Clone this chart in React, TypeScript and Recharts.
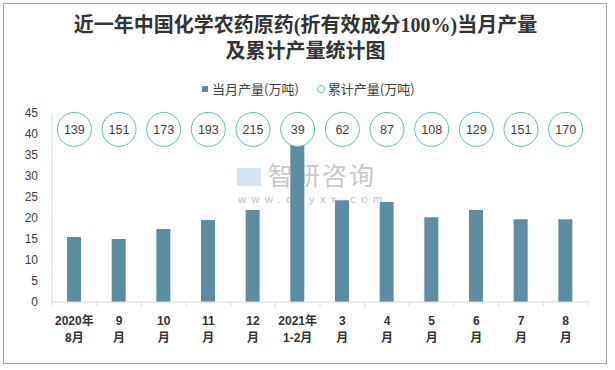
import React from 'react';
import { ComposedChart, Bar, Line, XAxis, YAxis } from 'recharts';

// x-axis labels, "top|bottom" lines
const categories = ['2020年|8月', '9|月', '10|月', '11|月', '12|月', '2021年|1-2月', '3|月', '4|月', '5|月', '6|月', '7|月', '8|月'];
const monthly = [15.5, 15.0, 17.4, 19.5, 21.9, 38.3, 24.2, 23.8, 20.2, 21.9, 19.7, 19.7];
const cumulative = [139, 151, 173, 193, 215, 39, 62, 87, 108, 129, 151, 170];
// the circles of the cumulative series sit on one row near the top of the axis
const circleRow = 41.1;
const yTicks = [0, 5, 10, 15, 20, 25, 30, 35, 40, 45];

const data = categories.map((c, i) => ({ name: c, monthly: monthly[i], cum: cumulative[i], row: circleRow }));

const BAR = '#5b8ea3';
const RING = '#5fc0b5';
const SANS = "Arial, 'Liberation Sans', 'Noto Sans CJK SC', sans-serif";

function XTick(props: any) {
  const { x, y, payload, index, visibleTicksCount, width } = props;
  const band = width / visibleTicksCount;
  const [top, bottom] = String(payload.value).split('|');
  return (
    <g>
      <line x1={x - band / 2} x2={x - band / 2} y1={y - 5} y2={y} stroke="#d9d9d9" />
      {index === visibleTicksCount - 1 && <line x1={x + band / 2} x2={x + band / 2} y1={y - 5} y2={y} stroke="#d9d9d9" />}
      <text x={x} y={y + 18} textAnchor="middle" fontSize={12} fontWeight="bold" fill="#333" fontFamily={SANS}>{top}</text>
      <text x={x} y={y + 35} textAnchor="middle" fontSize={12} fontWeight="bold" fill="#333" fontFamily={SANS}>{bottom}</text>
    </g>
  );
}

function RingDot(props: any) {
  const { cx, cy, payload, index } = props;
  return (
    <g key={`ring-${index}`}>
      <circle cx={cx} cy={cy} r={17} fill="#fff" stroke={RING} strokeWidth={1} />
      <text x={cx} y={cy + 4.5} textAnchor="middle" fontSize={12.5} fill="#404040" fontFamily={SANS}>{payload.cum}</text>
    </g>
  );
}

export default function App() {
  return (
    <div style={{ position: 'absolute', left: 0, top: 0, width: 615, height: 370, background: '#fff', fontFamily: SANS }}>
      <div style={{ position: 'absolute', left: 3, top: 3, width: 604, height: 361, border: '1px solid #a6a6a6', boxSizing: 'border-box' }} />
      {/* title */}
      <div style={{ position: 'absolute', left: 0, top: 12, width: 611, textAlign: 'center', fontFamily: "'Liberation Serif', 'Noto Sans CJK SC', serif", fontWeight: 'bold', fontSize: 20, lineHeight: '26px', color: '#333' }}>
        近一年中国化学农药原药(折有效成分100%)当月产量<br />及累计产量统计图
      </div>
      {/* legend */}
      <div style={{ position: 'absolute', left: 202, top: 79, fontSize: 13, color: '#404040', display: 'flex', alignItems: 'center', whiteSpace: 'nowrap', fontFamily: "'Noto Sans CJK SC', sans-serif" }}>
        <span style={{ display: 'inline-block', width: 6, height: 6, background: BAR, marginRight: 4 }} />
        <span>当月产量(万吨)</span>
        <span style={{ display: 'inline-block', width: 6, height: 6, border: `1px solid ${RING}`, borderRadius: '50%', marginLeft: 18, marginRight: 3 }} />
        <span>累计产量(万吨)</span>
      </div>
      {/* watermark */}
      <div style={{ position: 'absolute', left: 268, top: 161, fontSize: 25, color: '#c8c8c8', letterSpacing: 2, fontFamily: "'Noto Sans CJK SC', sans-serif", lineHeight: '26px' }}>智研咨询</div>
      <div style={{ position: 'absolute', left: 238, top: 193, fontSize: 11, lineHeight: '12px', color: '#c0c0c0', letterSpacing: 5.5 }}>www.chyxx.com</div>
      <div style={{ position: 'absolute', left: 237, top: 168, width: 24, height: 18, background: '#d6e3f0' }} />
      <div style={{ position: 'absolute', left: 0, top: 0 }}>
        <ComposedChart width={615} height={370} data={data} margin={{ top: 113, right: 27, bottom: 23, left: 12 }} barCategoryGap={0}>
          <XAxis dataKey="name" height={45} axisLine={{ stroke: '#d9d9d9' }} tickLine={false} tickSize={5} tickMargin={0} interval={0} tick={<XTick />} />
          <YAxis domain={[0, 45]} ticks={yTicks} width={40} axisLine={{ stroke: '#d9d9d9' }} tickLine={false} tickSize={6} tickMargin={8} tick={{ fontSize: 12, fill: '#404040', fontFamily: SANS }} interval={0} />
          <Bar dataKey="monthly" fill={BAR} barSize={14} isAnimationActive={false} />
          <Line dataKey="row" stroke="none" dot={<RingDot />} activeDot={false} isAnimationActive={false} />
        </ComposedChart>
      </div>
    </div>
  );
}
